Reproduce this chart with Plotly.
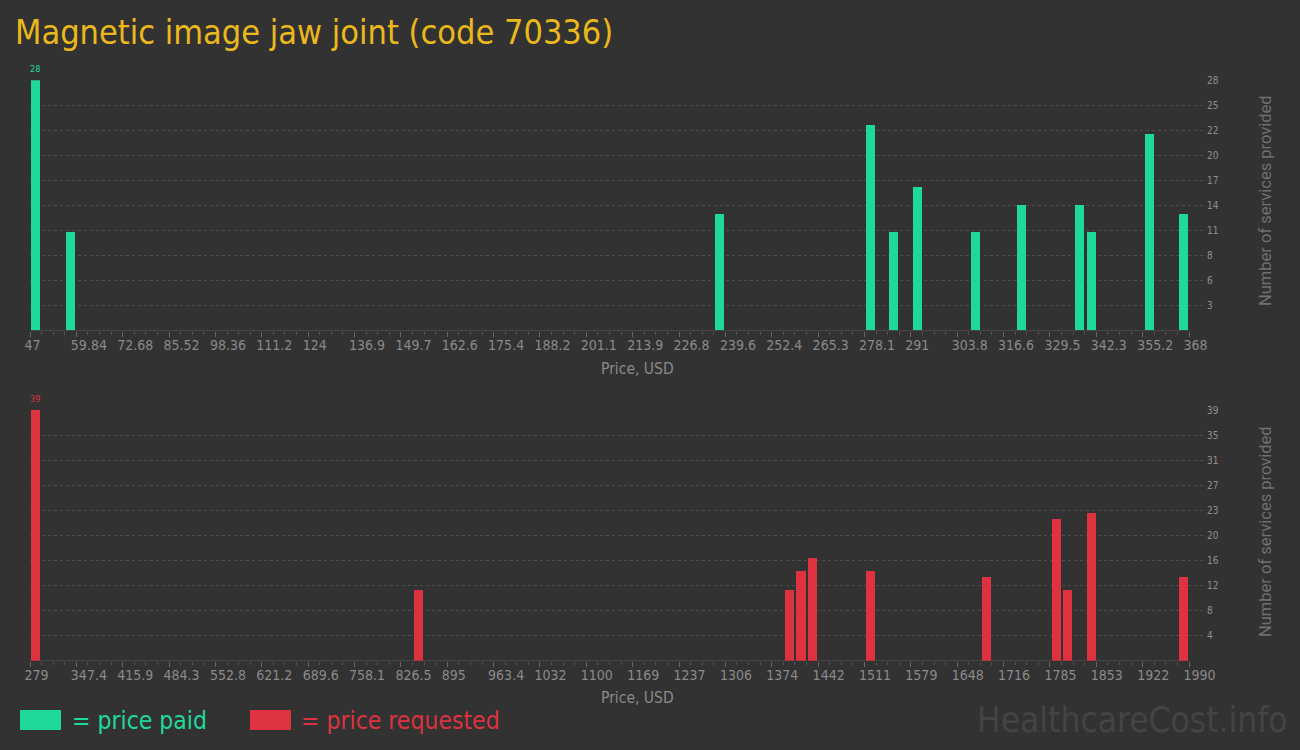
import plotly.graph_objects as go

# ---------------- data ----------------
title_text = "Magnetic image jaw joint (code 70336)"

paid_prices = [48.5, 58.1, 238.0, 279.8, 286.2, 292.7, 308.8, 321.6, 337.7, 340.9, 357.0, 366.5]
paid_counts = [28, 11, 13, 23, 11, 16, 11, 14, 14, 11, 22, 13]

req_prices = [287.1, 851.8, 1400.3, 1417.2, 1434.2, 1519.8, 1691.1, 1793.7, 1810.7, 1845.4, 1981.9]
req_counts = [39, 11, 11, 14, 16, 14, 13, 22, 11, 23, 13]

paid_xticks = ["47", "59.84", "72.68", "85.52", "98.36", "111.2", "124", "136.9", "149.7",
               "162.6", "175.4", "188.2", "201.1", "213.9", "226.8", "239.6", "252.4",
               "265.3", "278.1", "291", "303.8", "316.6", "329.5", "342.3", "355.2", "368"]
req_xticks = ["279", "347.4", "415.9", "484.3", "552.8", "621.2", "689.6", "758.1", "826.5",
              "895", "963.4", "1032", "1100", "1169", "1237", "1306", "1374", "1442", "1511",
              "1579", "1648", "1716", "1785", "1853", "1922", "1990"]
paid_yticks = ["3", "6", "8", "11", "14", "17", "20", "22", "25", "28"]
req_yticks = ["4", "8", "12", "16", "20", "23", "27", "31", "35", "39"]

paid_min, paid_max = 47.0, 368.0
req_min, req_max = 279.0, 1990.0

# ---------------- style ----------------
BG = "#323232"
GREEN = "#1fd99a"
RED = "#dd3341"
GOLD = "#ebb81c"
FONT = "DejaVu Sans Condensed, Liberation Sans Narrow, Roboto, sans-serif"
W, H = 1300, 750

x_left_px, x_tick_end_px, x_right_px = 30, 1189, 1206


def px_x(p):
    return p / W


def px_y(p):
    return 1 - p / H


def tickvals(lo, hi, n):
    return [lo + (hi - lo) * i / (n - 1) for i in range(n)]


def xrange_for(lo, hi):
    per_px = (hi - lo) / (x_tick_end_px - x_left_px)
    return [lo, lo + (x_right_px - x_left_px) * per_px]


fig = go.Figure()
fig.add_trace(go.Bar(x=paid_prices, y=paid_counts, marker_color=GREEN, marker_line_width=0,
                     width=2.5, xaxis="x", yaxis="y", showlegend=False,
                     hovertemplate="%{x}: %{y}<extra></extra>"))
fig.add_trace(go.Bar(x=req_prices, y=req_counts, marker_color=RED, marker_line_width=0,
                     width=13.3, xaxis="x2", yaxis="y2", showlegend=False,
                     hovertemplate="%{x}: %{y}<extra></extra>"))

common_x = dict(
    showgrid=False, zeroline=False, showline=False, automargin=False,
    ticks="outside", ticklen=5, tickcolor="#666666", tickangle=0,
    tickfont=dict(family=FONT, size=14, color="#8a8a8a"),
    ticklabelposition="outside right", ticklabelshift=-6, ticklabelstandoff=1,
)
common_y = dict(
    side="right", showgrid=True, gridcolor="#4d4d4d", griddash="dot", gridwidth=1,
    zeroline=False, showline=False, ticks="", automargin=False,
    tickfont=dict(family=FONT, size=10, color="#8f8f8f"),
)

n_paid = len(paid_xticks)
n_req = len(req_xticks)
paid_tv = tickvals(paid_min, paid_max, n_paid)
req_tv = tickvals(req_min, req_max, n_req)

paid_ymax = max(paid_counts)
req_ymax = max(req_counts)

fig.update_layout(
    width=W, height=H, autosize=False,
    paper_bgcolor=BG, plot_bgcolor=BG,
    margin=dict(l=0, r=0, t=0, b=0, pad=0),
    bargap=0,
    xaxis=dict(common_x, domain=[px_x(x_left_px), px_x(x_right_px)], anchor="y",
               range=xrange_for(paid_min, paid_max),
               tickmode="array", tickvals=paid_tv, ticktext=paid_xticks,
               minor=dict(ticks="outside", ticklen=3, tickcolor="#555555",
                          tickmode="array",
                          tickvals=tickvals(paid_min, paid_max, (n_paid - 1) * 4 + 1))),
    yaxis=dict(common_y, domain=[px_y(330.7), px_y(80.3)], anchor="x",
               range=[0, paid_ymax],
               tickmode="array", tickvals=tickvals(0, paid_ymax, 11)[1:], ticktext=paid_yticks),
    xaxis2=dict(common_x, domain=[px_x(x_left_px), px_x(x_right_px)], anchor="y2",
                range=xrange_for(req_min, req_max),
                tickmode="array", tickvals=req_tv, ticktext=req_xticks,
                minor=dict(ticks="outside", ticklen=3, tickcolor="#555555",
                           tickmode="array",
                           tickvals=tickvals(req_min, req_max, (n_req - 1) * 4 + 1))),
    yaxis2=dict(common_y, domain=[px_y(660.7), px_y(410)], anchor="x2",
                range=[0, req_ymax],
                tickmode="array", tickvals=tickvals(0, req_ymax, 11)[1:], ticktext=req_yticks),
)

ann = []
# title
ann.append(dict(text=title_text, x=px_x(13), y=px_y(32), xref="paper", yref="paper",
                xanchor="left", yanchor="middle", showarrow=False,
                font=dict(family=FONT, size=34, color=GOLD)))
# max value labels
ann.append(dict(text=str(paid_counts[0]), x=paid_prices[0], y=paid_counts[0], xref="x", yref="y",
                xanchor="center", yanchor="bottom", yshift=4, showarrow=False,
                font=dict(family=FONT, size=9, color=GREEN)))
ann.append(dict(text=str(req_counts[0]), x=req_prices[0], y=req_counts[0], xref="x2", yref="y2",
                xanchor="center", yanchor="bottom", yshift=4, showarrow=False,
                font=dict(family=FONT, size=9, color=RED)))
# axis titles
for yc in (369, 698):
    ann.append(dict(text="Price, USD", x=px_x(637), y=px_y(yc), xref="paper", yref="paper",
                    xanchor="center", yanchor="middle", showarrow=False,
                    font=dict(family=FONT, size=15.5, color="#8a8a8a")))
for yc in (201, 532):
    ann.append(dict(text="Number of services provided", x=px_x(1265), y=px_y(yc),
                    xref="paper", yref="paper", textangle=-90,
                    xanchor="center", yanchor="middle", showarrow=False,
                    font=dict(family="Roboto, sans-serif", size=16.5, color="#707070")))
# legend
ann.append(dict(text="= price paid", x=px_x(70), y=px_y(720), xref="paper", yref="paper",
                xanchor="left", yanchor="middle", showarrow=False,
                font=dict(family=FONT, size=24.5, color=GREEN)))
ann.append(dict(text="= price requested", x=px_x(299), y=px_y(720), xref="paper", yref="paper",
                xanchor="left", yanchor="middle", showarrow=False,
                font=dict(family=FONT, size=24.5, color=RED)))
# watermark
ann.append(dict(text="HealthcareCost.info", x=px_x(1290), y=px_y(720), xref="paper", yref="paper",
                xanchor="right", yanchor="middle", showarrow=False,
                font=dict(family=FONT, size=35, color="#444444")))
fig.update_layout(annotations=ann)

fig.update_layout(shapes=[
    # axis baselines spanning the tick range
    dict(type="line", xref="x", yref="y", x0=paid_min, x1=paid_max, y0=0, y1=0,
         line=dict(color="#555555", width=1), layer="below"),
    dict(type="line", xref="x2", yref="y2", x0=req_min, x1=req_max, y0=0, y1=0,
         line=dict(color="#555555", width=1), layer="below"),
    # legend swatches
    dict(type="rect", xref="paper", yref="paper", x0=px_x(20), x1=px_x(61),
         y0=px_y(730), y1=px_y(710), fillcolor=GREEN, line_width=0),
    dict(type="rect", xref="paper", yref="paper", x0=px_x(250), x1=px_x(291),
         y0=px_y(730), y1=px_y(710), fillcolor=RED, line_width=0),
])

fig.write_html("out.html",
               config={"displayModeBar": False, "responsive": False},
               post_script="document.body.style.margin='0';document.body.style.overflow='hidden';")
